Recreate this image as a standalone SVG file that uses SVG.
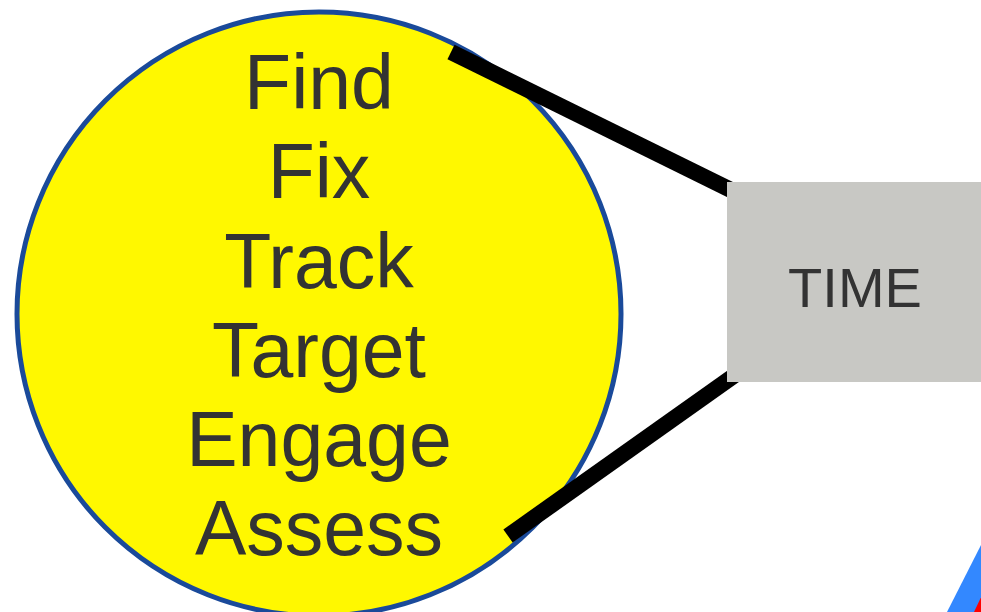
<svg xmlns="http://www.w3.org/2000/svg" width="981" height="612" viewBox="0 0 981 612">
  <style>
    .lbl { font-family: "Liberation Sans", Arial, sans-serif; fill: #333333; text-anchor: middle; }
    .big { font-size: 77px; }
    .box { font-size: 56px; }
    .conn { stroke: #000000; stroke-width: 16; fill: none; stroke-linecap: butt; }
  </style>
  <rect x="0" y="0" width="981" height="612" fill="#ffffff"/>
  <g id="kill-chain">
    <circle cx="319" cy="314" r="302" fill="#fff800" stroke="#1a4a9a" stroke-width="5"/>
    <text class="lbl big" x="319" y="109">Find</text>
    <text class="lbl big" x="319" y="198">Fix</text>
    <text class="lbl big" x="319" y="288">Track</text>
    <text class="lbl big" x="319" y="377">Target</text>
    <text class="lbl big" x="319" y="466">Engage</text>
    <text class="lbl big" x="319" y="555">Assess</text>
  </g>
  <g id="connectors">
    <line class="conn" x1="451" y1="52" x2="735" y2="192"/>
    <line class="conn" x1="508" y1="536" x2="735" y2="375"/>
  </g>
  <g id="time">
    <rect x="727" y="182" width="260" height="200" fill="#c8c8c4"/>
    <text class="lbl box" x="855" y="307">TIME</text>
  </g>
  <g id="corner-shape">
    <polygon points="982,543 947,612 982,612" fill="#3388ff"/>
    <polygon points="982,595 974,612 982,612" fill="#ff0000"/>
  </g>
</svg>
